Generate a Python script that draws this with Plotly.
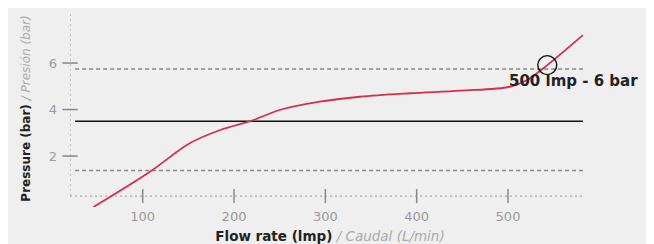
import plotly.graph_objects as go

# Data
flow = [46, 108, 152, 185, 218, 250, 294, 338, 393, 448, 502, 521, 543, 582]
pressure = [-0.19, 1.33, 2.56, 3.12, 3.5, 3.98, 4.34, 4.55, 4.70, 4.81, 4.98, 5.27, 5.91, 7.2]

x_ticks = [100, 200, 300, 400, 500]
y_ticks = [2, 4, 6]

upper_limit = 5.74
nominal = 3.5
lower_limit = 1.38
line_start, line_end = 26, 582

point_x, point_y = [543], [5.91]
point_label = "500 lmp - 6 bar"

x_range = [20.4, 589.8]
y_range = [-0.19, 8.28]
x_axis_at = 0.28
y_axis_top = 8.2

BG = "#efefef"
GRAY = "#9a9a9a"
FONT = "DejaVu Sans"

fig = go.Figure()

# axis guide lines (dotted)
fig.add_trace(go.Scatter(x=[x_range[0], x_range[0]], y=[x_axis_at, y_axis_top], mode="lines",
                         line=dict(color="#aaaaaa", width=1.2, dash="2px,3px"), hoverinfo="skip"))
fig.add_trace(go.Scatter(x=[x_range[0], line_end], y=[x_axis_at, x_axis_at], mode="lines",
                         line=dict(color="#aaaaaa", width=1.2, dash="2px,3px"), hoverinfo="skip"))
# tick marks
fig.add_trace(go.Scatter(x=x_ticks, y=[x_axis_at] * len(x_ticks), mode="markers",
                         marker=dict(symbol="line-ns", size=10, line=dict(color="#888888", width=1.5)),
                         cliponaxis=False, hoverinfo="skip"))
fig.add_trace(go.Scatter(x=[x_range[0]] * len(y_ticks), y=y_ticks, mode="markers",
                         marker=dict(symbol="line-ew", size=11, line=dict(color="#888888", width=1.5)),
                         cliponaxis=False, hoverinfo="skip"))

# reference lines
for val, col, dash, w in [(upper_limit, "#888888", "4px,3px", 1.5), (nominal, "#111111", "solid", 1.6),
                          (lower_limit, "#888888", "4px,3px", 1.5)]:
    fig.add_trace(go.Scatter(x=[line_start, line_end], y=[val, val], mode="lines",
                             line=dict(color=col, width=w, dash=dash), hoverinfo="skip"))

# curve
fig.add_trace(go.Scatter(x=flow, y=pressure, mode="lines",
                         line=dict(color="#d62f4b", width=1.8, shape="spline", smoothing=1.0)))

# point marker
fig.add_trace(go.Scatter(x=point_x, y=point_y, mode="markers",
                         marker=dict(symbol="circle-open", size=19, color="#111111",
                                     line=dict(color="#111111", width=1.4)), cliponaxis=False))

fig.add_annotation(x=572, y=5.22, text="<b>" + point_label + "</b>", showarrow=False,
                   font=dict(size=15, color="#222222", family=FONT), xanchor="center", yanchor="middle")

fig.update_layout(
    width=646, height=236,
    margin=dict(l=62, r=64, t=2, b=37),
    paper_bgcolor=BG, plot_bgcolor=BG,
    showlegend=False,
    font=dict(family=FONT, color=GRAY, size=13),
    xaxis=dict(range=x_range, tickvals=x_ticks, showgrid=False, zeroline=False, showline=False,
               ticks="", tickfont=dict(size=13, color=GRAY), automargin=False,
               title=dict(text="<b><span style='color:#222'>Flow rate (lmp)</span></b>"
                               "<i><span style='color:#aaa'> / Caudal (L/min)</span></i>",
                          font=dict(size=13.5))),
    yaxis=dict(range=y_range, tickvals=y_ticks, showgrid=False, zeroline=False, showline=False,
               ticks="", ticklabelstandoff=12, tickfont=dict(size=13, color=GRAY), automargin=False,
               title=dict(text="<b><span style='color:#222'>Pressure (bar)</span></b>"
                               "<i><span style='color:#aaa'> / Presión (bar)</span></i>",
                          font=dict(size=12))),
)

fig.write_html("out.html")
